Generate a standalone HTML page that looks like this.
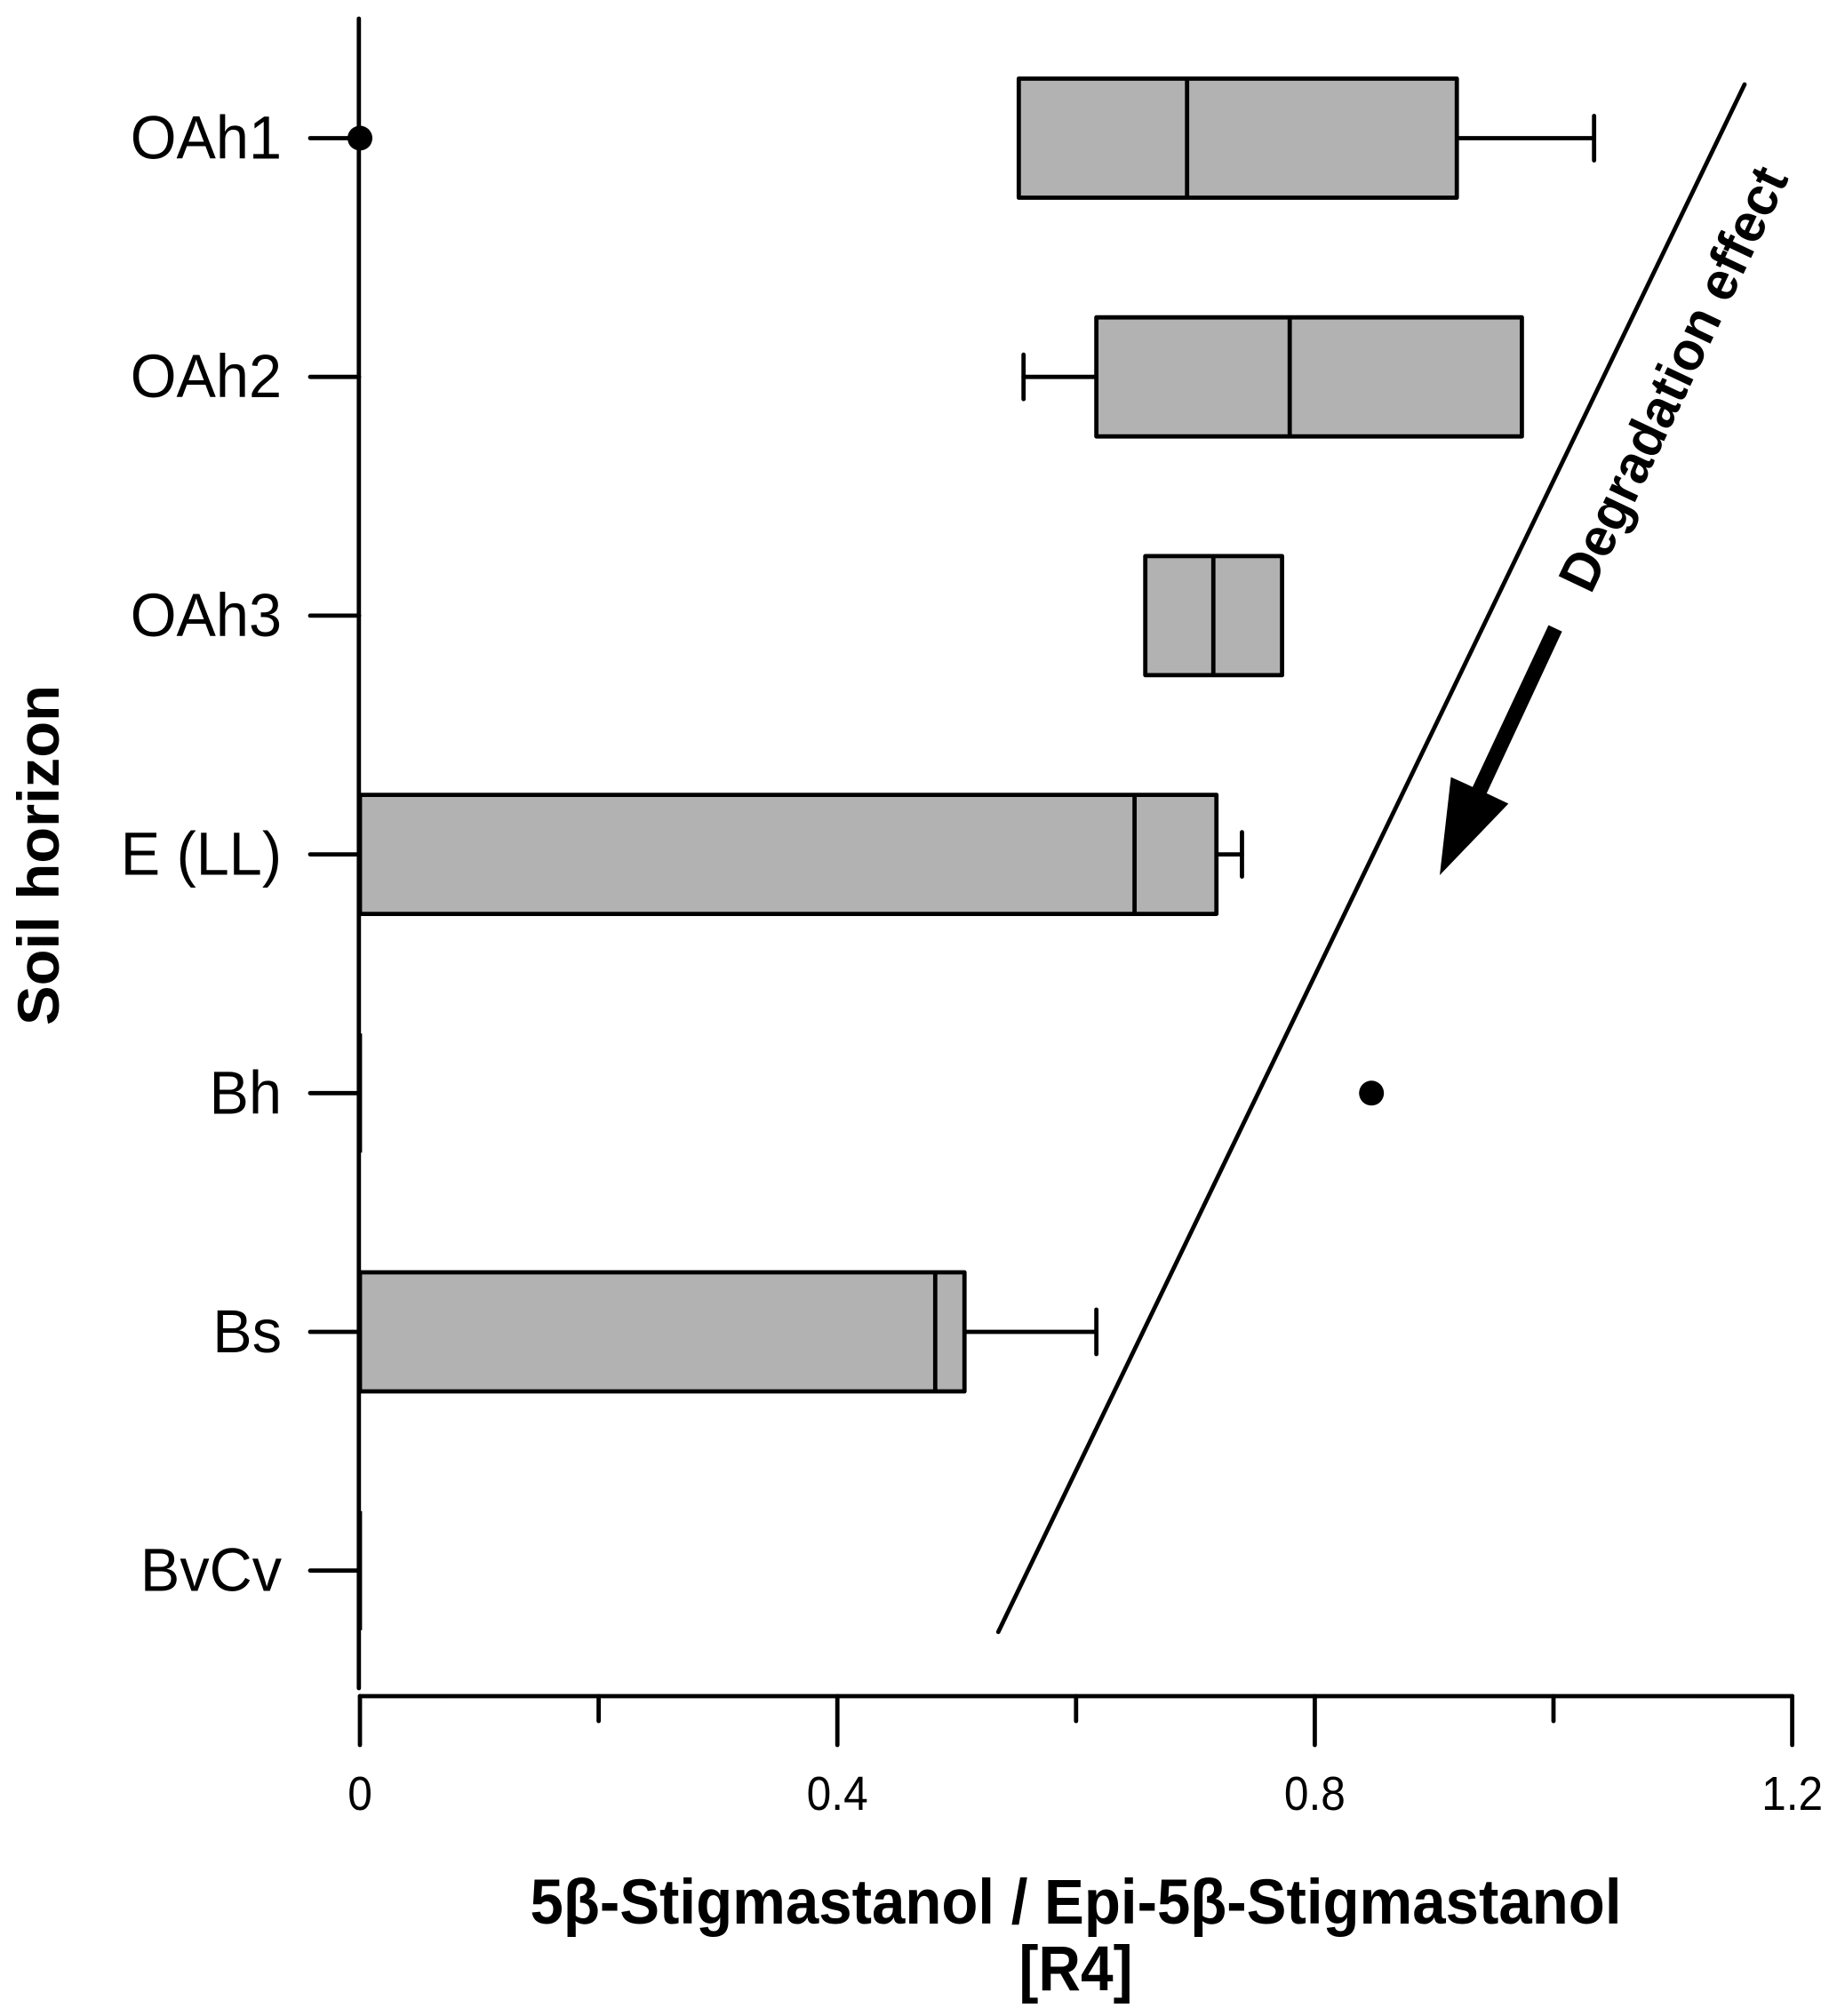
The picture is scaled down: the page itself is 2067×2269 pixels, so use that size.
<!DOCTYPE html>
<html lang="en">
<head>
<meta charset="utf-8">
<title>5β-Stigmastanol / Epi-5β-Stigmastanol by soil horizon</title>
<style>
  html, body { margin: 0; padding: 0; background: #fff; }
  svg { display: block; font-family: "Liberation Sans", Arial, sans-serif; }
</style>
</head>
<body>
<svg id="chart" xmlns="http://www.w3.org/2000/svg" width="2067" height="2269" viewBox="0 0 2067 2269">
  <rect x="0" y="0" width="2067" height="2269" fill="#ffffff"/>
  <g id="marks"></g>
  <line x1="403.8" y1="21" x2="403.8" y2="1900" stroke="#000" stroke-width="4.8" stroke-linecap="round"/>
  <g id="axes"></g>
  <text transform="translate(66 1154) rotate(-90)" font-size="66" font-weight="700" textLength="383" lengthAdjust="spacingAndGlyphs">Soil horizon</text>
  <text x="1210.5" y="2165" text-anchor="middle" font-size="71" font-weight="700" textLength="1228" lengthAdjust="spacingAndGlyphs">5β-Stigmastanol / Epi-5β-Stigmastanol</text>
  <text x="1210.5" y="2240" text-anchor="middle" font-size="71" font-weight="700" textLength="128" lengthAdjust="spacingAndGlyphs">[R4]</text>
  <line x1="1963" y1="95" x2="1123.3" y2="1836.7" stroke="#000" stroke-width="4.8" stroke-linecap="round"/>
  <polygon fill="#000" points="1742.4,703.6 1757.6,710.7 1672.8,892.9 1697.3,904.5 1620,985 1632.6,874.6 1657,885.7"/>
  <text transform="translate(1790 670) rotate(-64.6)" font-size="61" font-weight="700" textLength="520" lengthAdjust="spacingAndGlyphs">Degradation effect</text>
</svg>
<script>
const categories = ['OAh1', 'OAh2', 'OAh3', 'E (LL)', 'Bh', 'Bs', 'BvCv'];
const q1Values = [0.552, 0.617, 0.658, 0, 0, 0, 0];
const medianValues = [0.693, 0.779, 0.715, 0.649, 0, 0.482, 0];
const q3Values = [0.919, 0.9735, 0.7726, 0.7176, 0, 0.5065, 0];
const whiskerLowValues = [0.552, 0.556, 0.658, 0, 0, 0, 0];
const whiskerHighValues = [1.034, 0.9735, 0.7726, 0.739, 0, 0.617, 0];
const outlierValues = [0, null, null, null, 0.8475, null, null];
const xTickValues = [0, 0.2, 0.4, 0.6, 0.8, 1.0, 1.2];
const xTickLabels = ['0', '', '0.4', '', '0.8', '', '1.2'];

const NS = 'http://www.w3.org/2000/svg';
const marks = document.getElementById('marks');
const axes = document.getElementById('axes');

function xScale(v) { return 405 + v * 1343; }
function yScale(i) { return 155.5 + i * 268.7; }

function make(parent, tag, attrs, text) {
  const el = document.createElementNS(NS, tag);
  for (const k in attrs) el.setAttribute(k, attrs[k]);
  if (text !== undefined) el.textContent = text;
  parent.appendChild(el);
  return el;
}

const BOX_HALF = 67;
const CAP_HALF = 25;
const STROKE = 4.8;
const lineStyle = { stroke: '#000', 'stroke-width': STROKE, 'stroke-linecap': 'round' };

categories.forEach(function (name, i) {
  const y = yScale(i);
  const key = name.toLowerCase().replace(/[^a-z0-9]+/g, '-').replace(/-$/, '');

  const tick = make(axes, 'line', Object.assign({ x1: 349, x2: 404, y1: y, y2: y }, lineStyle));
  
  

  const label = make(axes, 'text', {
    transform: 'translate(317 ' + (y + 23) + ') scale(0.965 1)',
    'text-anchor': 'end', 'font-size': 69
  }, name);
  
  

  const left = xScale(q1Values[i]);
  const right = xScale(q3Values[i]);
  const mid = xScale(medianValues[i]);
  const low = xScale(whiskerLowValues[i]);
  const high = xScale(whiskerHighValues[i]);

  if (whiskerHighValues[i] > q3Values[i]) {
    const wh = make(marks, 'line', Object.assign({ x1: right, x2: high, y1: y, y2: y }, lineStyle));
    
    
    const ch = make(marks, 'line', Object.assign({ x1: high, x2: high, y1: y - CAP_HALF, y2: y + CAP_HALF }, lineStyle));
    
    
  }
  if (whiskerLowValues[i] < q1Values[i]) {
    const wl = make(marks, 'line', Object.assign({ x1: low, x2: left, y1: y, y2: y }, lineStyle));
    
    
    const cl = make(marks, 'line', Object.assign({ x1: low, x2: low, y1: y - CAP_HALF, y2: y + CAP_HALF }, lineStyle));
    
    
  }

  const box = make(marks, 'rect', {
    x: left, y: y - BOX_HALF, width: right - left, height: BOX_HALF * 2,
    fill: '#b2b2b2', stroke: '#000', 'stroke-width': STROKE, 'stroke-linejoin': 'round'
  });
  
  

  const med = make(marks, 'line', { x1: mid, x2: mid, y1: y - BOX_HALF, y2: y + BOX_HALF, stroke: '#000', 'stroke-width': STROKE });
  
  

  if (outlierValues[i] !== null) {
    const dot = make(marks, 'circle', { cx: xScale(outlierValues[i]), cy: y, r: 14, fill: '#000' });
    
    
    marks.parentNode.appendChild(dot);
  }
});

const axisLine = make(axes, 'line', Object.assign({ x1: xScale(xTickValues[0]), x2: xScale(xTickValues[xTickValues.length - 1]), y1: 1909, y2: 1909 }, lineStyle));



xTickValues.forEach(function (v, i) {
  const major = xTickLabels[i] !== '';
  const x = xScale(v);
  const t = make(axes, 'line', Object.assign({ x1: x, x2: x, y1: 1909, y2: major ? 1964 : 1937 }, lineStyle));
  
  
  if (major) {
    const lab = make(axes, 'text', {
      transform: 'translate(' + x + ' 2037) scale(0.92 1)',
      'text-anchor': 'middle', 'font-size': 54
    }, xTickLabels[i]);
    
    
  }
});
</script>
</body>
</html>
